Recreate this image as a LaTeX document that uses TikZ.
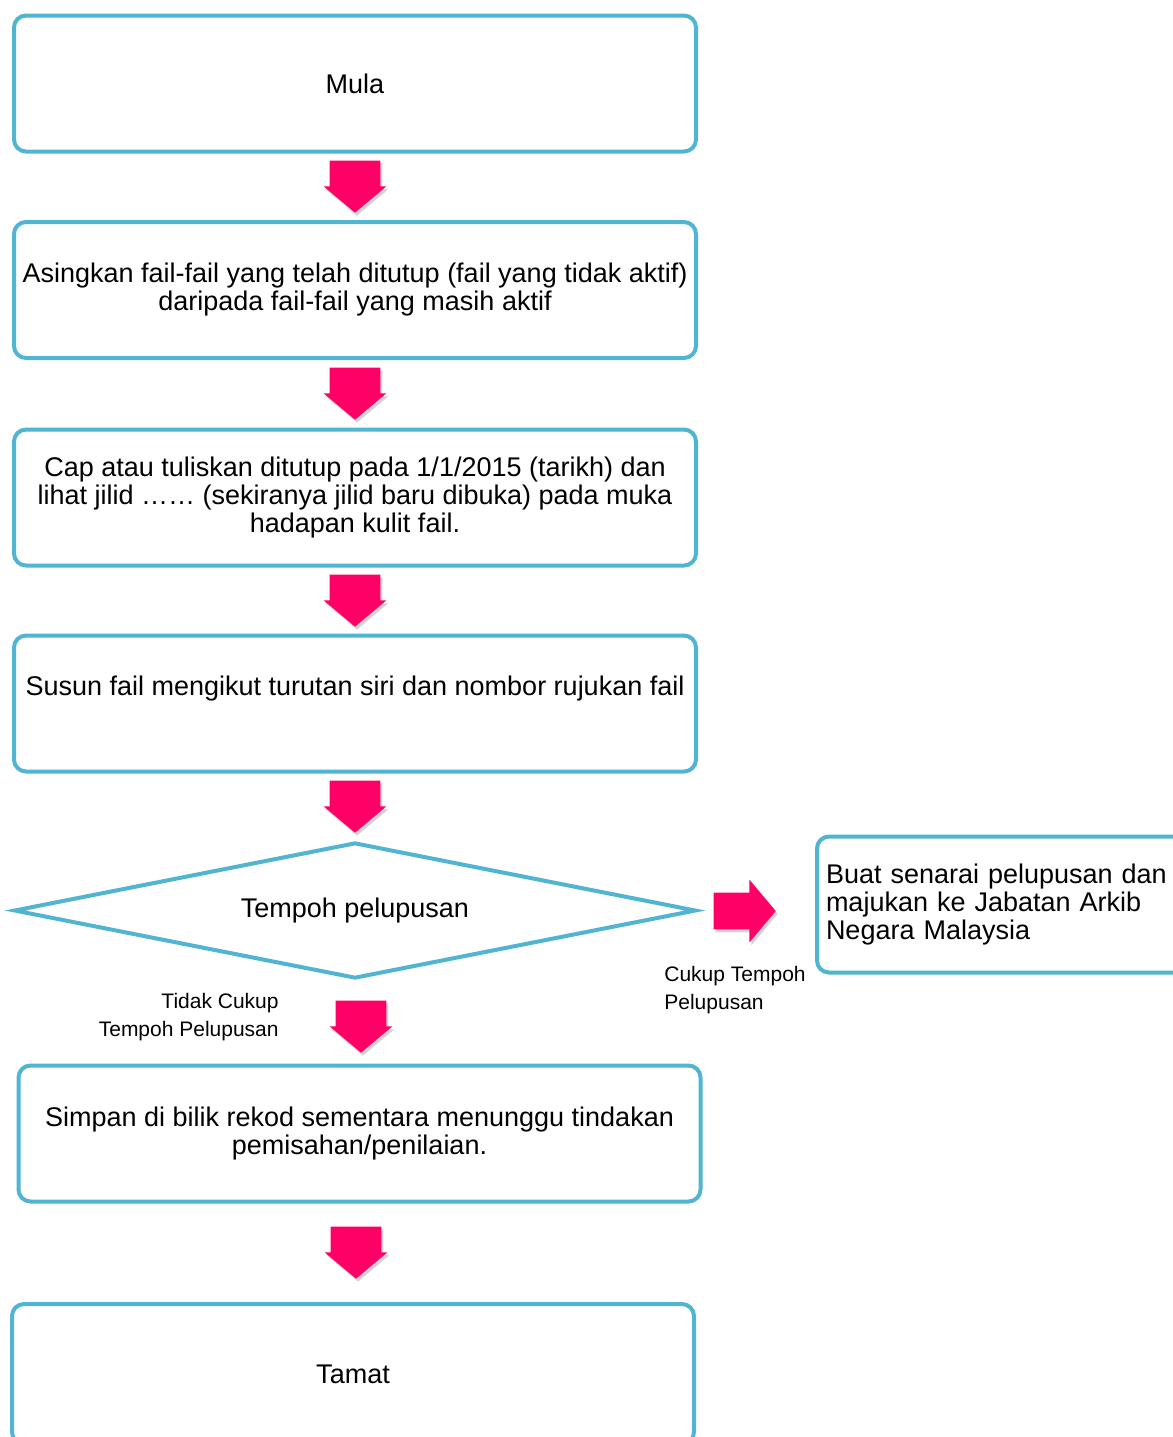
\documentclass[tikz,border=0pt]{standalone}
\usepackage{fontspec}
\setmainfont{Liberation Sans}
\usetikzlibrary{shapes.geometric,shapes.arrows,shadows}
\definecolor{boxblue}{RGB}{80,180,210}
\definecolor{arrowpink}{RGB}{255,0,102}

\begin{document}
\begin{tikzpicture}[x=0.5pt,y=-0.5pt,
    box/.style={draw=boxblue,line width=2pt,rounded corners=6pt,minimum width=341pt,minimum height=68pt,
      align=center,inner sep=2pt,font=\fontsize{13.5}{14}\selectfont},
    downarrow/.style={single arrow,fill=arrowpink,draw=none,shape border rotate=270,inner xsep=12.5pt,inner ysep=0pt,
      minimum height=26pt,minimum width=31pt,single arrow head extend=3pt,single arrow tip angle=100,
      drop shadow={opacity=0.35,shadow xshift=1pt,shadow yshift=-1.5pt}},
    label/.style={font=\fontsize{10.5}{14}\selectfont,inner sep=0pt}]
  \useasboundingbox (0,0) rectangle (1173,1437);

  % boxes
  \node[box] (mula) at (355,83.5) {Mula};
  \node[box] (asing) at (355,290) {Asingkan fail-fail yang telah ditutup (fail yang tidak aktif)\\daripada fail-fail yang masih aktif};
  \node[box] (cap) at (355,497.5) {Cap atau tuliskan ditutup pada 1/1/2015 (tarikh) dan\\lihat jilid \dots\dots\ (sekiranya jilid baru dibuka) pada muka\\hadapan kulit fail.};
  \node[box] (susun) at (355,703.5) {Susun fail mengikut turutan siri dan nombor rujukan fail\\[4pt]\mbox{}};
  \node[box,diamond,aspect=5,minimum width=341pt,minimum height=68pt,rounded corners=0pt] (tempoh) at (355,910.5) {Tempoh pelupusan};
  \node[box,align=left,minimum width=0pt,text width=190pt,inner sep=4.5pt] (buat) at (1016,904.5) {Buat senarai pelupusan dan\\majukan ke Jabatan Arkib\\Negara Malaysia};
  \node[box] (simpan) at (359.5,1133.5) {Simpan di bilik rekod sementara menunggu tindakan\\pemisahan/penilaian.};
  \node[box,minimum height=70pt] (tamat) at (353,1374) {Tamat};

  % block arrows
  \node[downarrow] (a1) at (355,176) {};
  \node[downarrow] (a2) at (355,383) {};
  \node[downarrow] (a3) at (355,590) {};
  \node[downarrow] (a4) at (355,796) {};
  \node[downarrow] (a5) at (361,1016) {};
  \node[downarrow] (a6) at (356,1242) {};
  \node[downarrow,shape border rotate=0,inner xsep=0pt,inner ysep=9pt,minimum height=31pt,single arrow head extend=6.5pt] (a7) at (737,911) {};

  % labels
  \node[label,anchor=west,align=left] (cukup) at (664,990) {Cukup Tempoh\\Pelupusan};
  \node[label,anchor=east,align=right] (tidak) at (279,1017) {Tidak Cukup\\Tempoh Pelupusan};
\end{tikzpicture}
\end{document}
